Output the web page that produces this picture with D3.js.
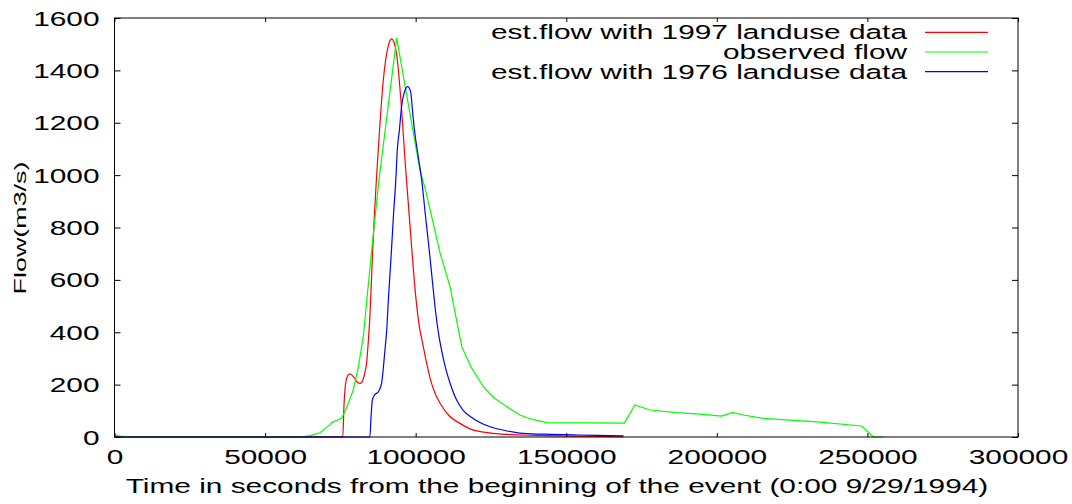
<!DOCTYPE html>
<html lang="en">
<head>
    <meta charset="UTF-8">
    <title>flow</title>
    <script src="https://cdn.jsdelivr.net/npm/d3@7/dist/d3.min.js"></script>
    <style>
        body { margin: 0; background: #fff; }
        svg text { font-family: "Liberation Sans", Arial, sans-serif; font-size: 19.5px; fill: #000; }
        svg .tick line { stroke: #000; stroke-width: 1; }
        svg .frame { fill: none; stroke: #000; stroke-width: 1; }
        svg .flow-line { fill: none; stroke-width: 1.2; }
    </style>
</head>
<body>
    <svg width="1072" height="504"></svg>
    <script>
        // est.flow with 1997 landuse data [seconds, m3/s]
        var flow1997 = [
            [0, 0], [75800, 0], [76200, 120], [76700, 200], [77500, 235], [78200, 241],
            [79500, 228], [80700, 208], [81600, 205], [82500, 218], [83300, 255], [83700, 281],
            [84300, 370], [84800, 460], [85500, 650], [86300, 850], [87000, 990], [88000, 1172],
            [89260, 1363], [90600, 1478], [91400, 1512], [92000, 1520], [92700, 1510], [93800, 1450],
            [95000, 1300], [96700, 1020], [98500, 750], [100000, 540], [101400, 409], [102100, 370],
            [103500, 290], [105000, 215], [106500, 165], [108100, 129], [111000, 82], [114700, 52],
            [119000, 27], [124500, 16], [130200, 10], [140000, 6], [152000, 3], [169000, 1]
        ];
        // observed flow
        var flowObserved = [
            [0, 8], [2000, 3], [5000, 0], [61700, 0], [65000, 5], [68200, 16], [71600, 48],
            [72100, 55], [75400, 71], [77000, 110], [79300, 180], [81000, 270], [82600, 383],
            [85400, 714], [87800, 981], [93700, 1523], [99000, 1177], [101400, 1020], [103300, 943],
            [108100, 703], [111400, 574], [115300, 345], [118500, 265], [122500, 192], [126000, 150],
            [130200, 116], [134600, 84], [138500, 68], [143500, 55], [169300, 53], [172800, 122],
            [177800, 103], [186700, 93], [194400, 87], [201600, 80], [205300, 94], [208800, 84],
            [215400, 71], [233200, 58], [248100, 42], [252000, 0], [255300, 0]
        ];
        // est.flow with 1976 landuse data
        var flow1976 = [
            [0, 0], [84800, 0], [85200, 80], [85600, 140], [86300, 160], [87600, 173], [88700, 206],
            [89300, 268], [89800, 332], [90400, 409], [90930, 523], [92000, 720], [92600, 841],
            [93400, 981], [93900, 1096], [94600, 1172], [95300, 1260], [96200, 1315], [97350, 1338],
            [98300, 1320], [99000, 1240], [99600, 1172], [100800, 1076], [102000, 981], [103300, 840],
            [104500, 714], [105600, 590], [106600, 480], [107600, 395], [108600, 332], [110000, 260],
            [111400, 206], [113600, 141], [115700, 103], [119100, 71], [124700, 39], [130000, 24],
            [135700, 14], [145000, 10], [152300, 8], [160000, 6], [169000, 4]
        ];

        var seriesNames = ['est.flow with 1997 landuse data', 'observed flow', 'est.flow with 1976 landuse data'];
        var seriesColors = ['#ff0000', '#00ff00', '#0000ff'];
        var xTicks = [0, 50000, 100000, 150000, 200000, 250000, 300000];
        var yTicks = [0, 200, 400, 600, 800, 1000, 1200, 1400, 1600];
        var xTitle = 'Time in seconds from the beginning of the event (0:00 9/29/1994)';
        var yTitle = 'Flow(m3/s)';

        var svg = d3.select('svg'),
            plotLeft = 114.5, plotRight = 1018, plotTop = 18, plotBottom = 437,
            stretch = 1.53;

        var x = d3.scaleLinear().domain([0, 300000]).range([plotLeft, plotRight]),
            y = d3.scaleLinear().domain([0, 1600]).range([plotBottom, plotTop]);

        // curves
        var data = [flow1997, flowObserved, flow1976];
        data.forEach(function(s, i) {
            var line = d3.line()
                .x(function(d) { return x(d[0]); })
                .y(function(d) { return y(d[1]); })
                .curve(i === 1 ? d3.curveLinear : d3.curveMonotoneX);
            svg.append('path')
                .classed('flow-line', true)
                .attr('stroke', seriesColors[i])
                .attr('d', line(s));
        });

        // axes, ticks pointing inward, mirrored on top and right
        var gx = svg.append('g')
            .attr('transform', 'translate(0,' + plotBottom + ')')
            .call(d3.axisBottom(x).tickValues(xTicks).tickSize(-4).tickFormat(d3.format('d')));
        svg.append('g')
            .attr('transform', 'translate(0,' + plotTop + ')')
            .call(d3.axisTop(x).tickValues(xTicks).tickSize(-4).tickFormat(''));
        var gy = svg.append('g')
            .attr('transform', 'translate(' + plotLeft + ',0)')
            .call(d3.axisLeft(y).tickValues(yTicks).tickSize(-6).tickFormat(d3.format('d')));
        svg.append('g')
            .attr('transform', 'translate(' + plotRight + ',0)')
            .call(d3.axisRight(y).tickValues(yTicks).tickSize(-6).tickFormat(''));

        svg.selectAll('.domain').remove();

        gx.selectAll('text')
            .attr('x', null).attr('y', null).attr('dy', null)
            .attr('fill', null)
            .attr('text-anchor', 'middle')
            .attr('transform', 'translate(0,27) scale(' + stretch + ',1)');
        gy.selectAll('text')
            .attr('x', null).attr('y', null).attr('dy', null)
            .attr('fill', null)
            .attr('text-anchor', 'end')
            .attr('transform', 'translate(-15,7) scale(' + stretch + ',1)');
        svg.selectAll('g').attr('font-size', null).attr('font-family', null);

        svg.append('rect')
            .classed('frame', true)
            .attr('x', plotLeft).attr('y', plotTop)
            .attr('width', plotRight - plotLeft).attr('height', plotBottom - plotTop);

        // titles
        svg.append('text')
            .attr('text-anchor', 'middle')
            .attr('transform', 'translate(557,493) scale(' + stretch + ',1)')
            .text(xTitle);
        svg.append('text')
            .attr('text-anchor', 'middle')
            .attr('transform', 'translate(26,228) rotate(-90) scale(1.38,0.85)')
            .text(yTitle);

        // legend
        var legend = svg.append('g');
        seriesNames.forEach(function(name, i) {
            var ly = 32.3 + i * 19.7;
            legend.append('text')
                .attr('text-anchor', 'end')
                .attr('transform', 'translate(907,' + (ly + 7) + ') scale(' + stretch + ',1)')
                .text(name);
            legend.append('line')
                .attr('x1', 925).attr('x2', 988)
                .attr('y1', ly).attr('y2', ly)
                .attr('stroke', seriesColors[i])
                .attr('stroke-width', 1.2);
        });
    </script>
</body>
</html>
